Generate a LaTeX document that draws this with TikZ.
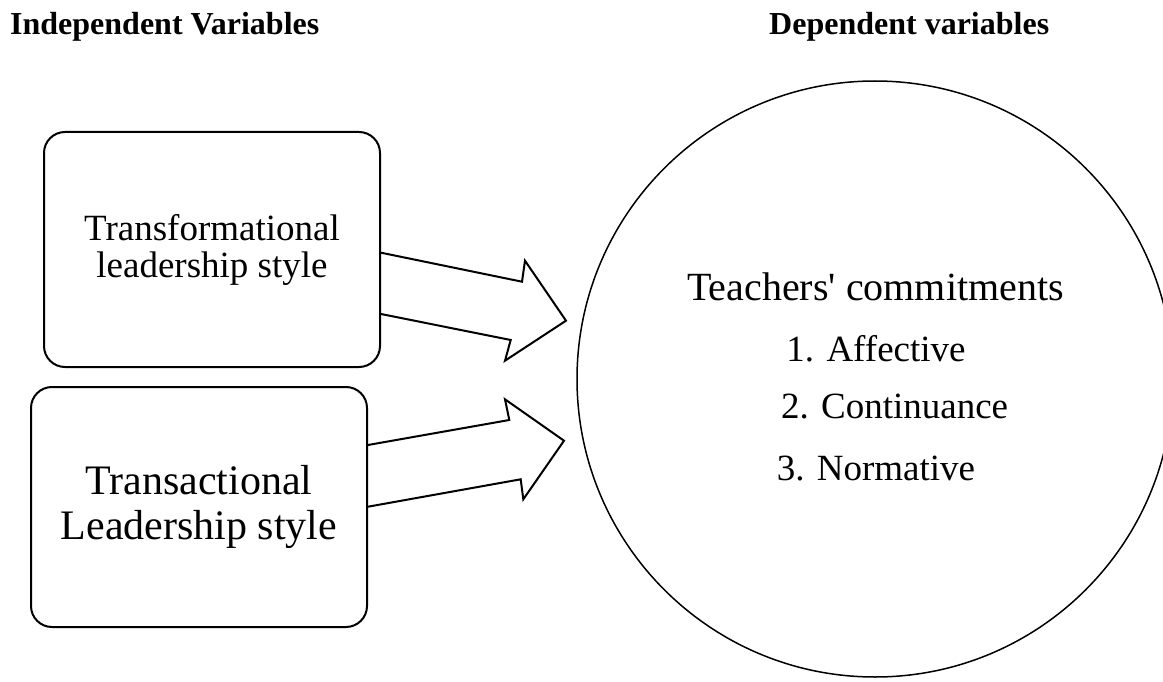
\documentclass[tikz,border=0pt]{standalone}
\usepackage{fontspec}
\setmainfont{Liberation Serif}[Ligatures=TeXOff]
\begin{document}
\begin{tikzpicture}[x=1pt,y=-1pt,
  box/.style={draw, line width=2pt, rounded corners=21pt, align=center, inner sep=0pt},
  bigarrow/.style={draw, line width=2pt, line join=miter},
  hdr/.style={anchor=base west, inner sep=0pt, font=\fontsize{32}{38}\selectfont\bfseries},
  item/.style={anchor=base, inner sep=0pt, font=\fontsize{37}{44}\selectfont}]
\useasboundingbox (0,0) rectangle (1163,682);
\clip (0,0) rectangle (1163,682);
\node[hdr] (h1) at (10,35) {Independent Variables};
\node[hdr] (h2) at (769,35) {Dependent variables};
\node[box, minimum width=336pt, minimum height=235pt, font=\fontsize{37}{37}\selectfont] (b1) at (212,249.5) {Transformational\\leadership style};
\node[box, minimum width=336pt, minimum height=240pt, font=\fontsize{42}{45}\selectfont] (b2) at (199,507) {Transactional\\Leadership style};
\node[draw, circle, line width=1.5pt, minimum size=596pt, inner sep=0pt] (c) at (875,379) {};
\node[item, font=\fontsize{40}{48}\selectfont] (t0) at (875.5,300) {Teachers' commitments};
\node[item] (t1) at (876,361) {1. Affective};
\node[item] (t2) at (894.6,418) {2. Continuance};
\node[item] (t3) at (876,480) {3. Normative};
\draw[bigarrow] ([yshift=-3.2pt]b1.east) -- (522,281.7) -- (525,260.7) -- (566,320.7) -- (505,360.7) -- (510.7,340) -- ([yshift=-64.5pt]b1.east);
\draw[bigarrow] ([yshift=62pt]b2.east) -- (509.3,420) -- (505,399.3) -- (564,440.7) -- (523.3,499.3) -- (520.7,479.3) -- ([yshift=0.3pt]b2.east);
\end{tikzpicture}
\end{document}
